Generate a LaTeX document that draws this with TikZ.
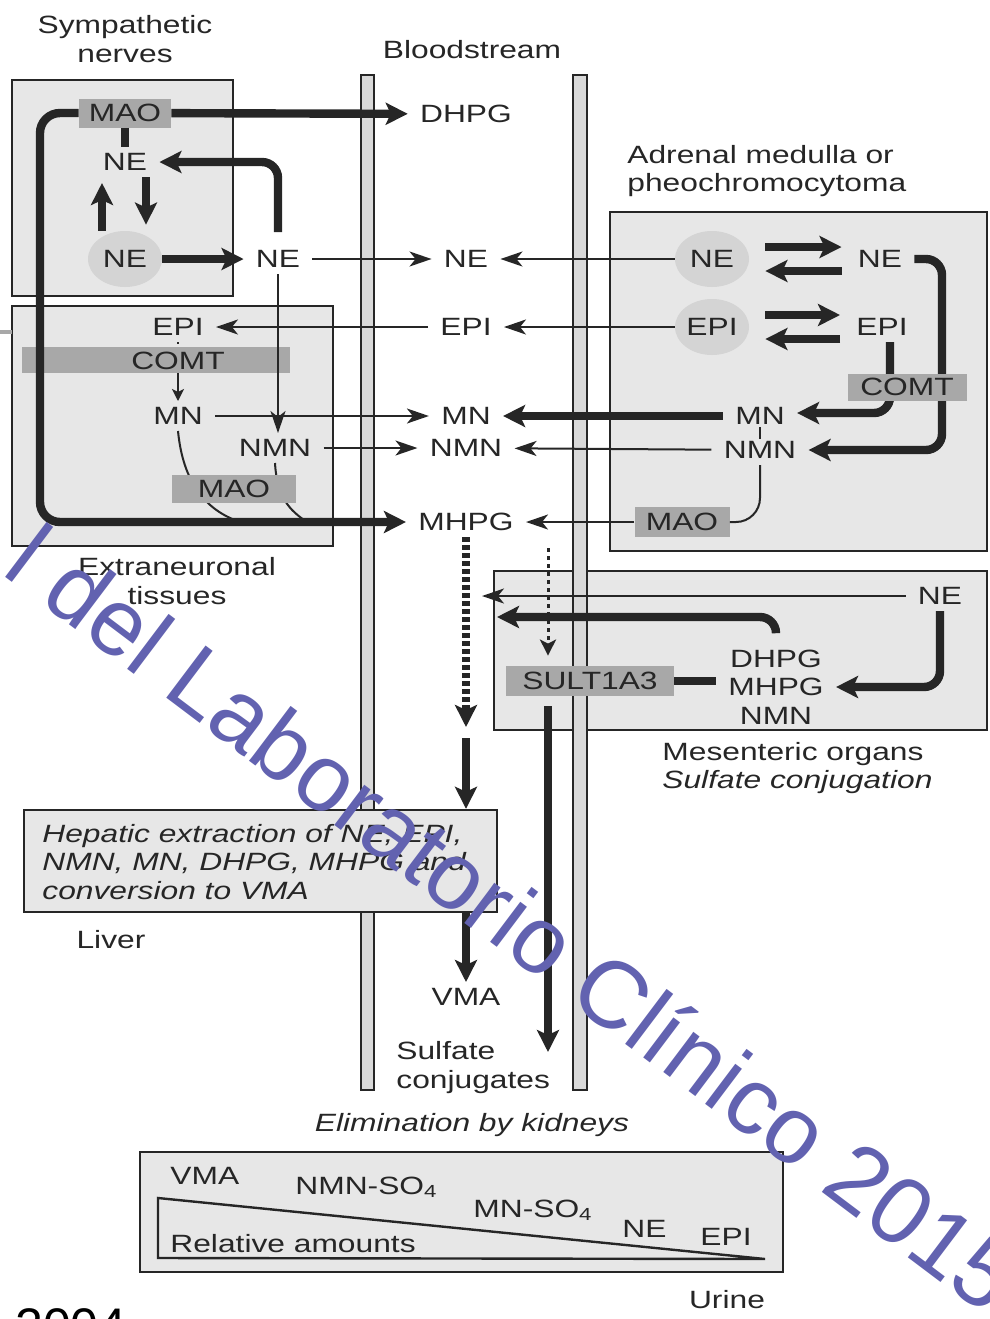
\documentclass[tikz,border=0pt]{standalone}
\usepackage{fontspec}
\setmainfont{Liberation Sans}[FakeStretch=1.27]
\newfontfamily\wmfont{Liberation Sans}
\usepackage{tikz}
\usetikzlibrary{arrows.meta, shapes.geometric, calc}

\definecolor{boxgray}{HTML}{E7E7E7}
\definecolor{enzgray}{HTML}{A8A8A8}
\definecolor{poolgray}{HTML}{D4D4D4}
\definecolor{vesgray}{HTML}{D9D9D9}
\definecolor{inkgray}{HTML}{262626}
\definecolor{wmblue}{RGB}{98,98,176}

\newcommand{\labfont}{\fontsize{12.5}{14.2}\selectfont}

\tikzset{
  organ/.style={draw=inkgray, line width=1.2pt, fill=boxgray},
  vessel/.style={draw=inkgray, line width=1.2pt, fill=vesgray},
  enz/.style={fill=enzgray, inner sep=0pt},
  pool/.style={ellipse, fill=poolgray, minimum width=37pt, minimum height=28pt, inner sep=0pt},
  fat/.style={draw=inkgray, line width=4.2pt, -{Stealth[length=11pt,width=11pt,inset=2.5pt]}},
  bar/.style={draw=inkgray, line width=4.2pt},
  conn/.style={draw=inkgray, line width=1pt, -{Stealth[length=11pt,width=7.5pt,inset=3pt]}},
  shortconn/.style={draw=inkgray, line width=1pt, -{Stealth[length=6pt,width=6pt,inset=1.5pt]}},
  thinline/.style={draw=inkgray, line width=1pt},
  dotconn/.style={draw=inkgray, line width=1.5pt, dash pattern=on 2pt off 2pt, -{Stealth[length=8pt,width=8pt,inset=2pt]}},
}

\begin{document}
\begin{tikzpicture}[x=0.5pt, y=-0.5pt, font=\labfont,
  every node/.style={text=inkgray, inner xsep=6pt, inner ysep=3pt}]
\useasboundingbox (0,0) rectangle (990,1319);

% compartments
\draw[organ] (12,80) rectangle (233,296);
\draw[organ] (12,306) rectangle (333,546);
\draw[organ] (610,212) rectangle (987,551);
\draw[organ] (494,571) rectangle (987,730);
\draw[organ] (140,1152) rectangle (783,1272);
\draw[draw=enzgray, line width=2pt] (0,332) -- (12,332);

% bloodstream
\draw[vessel] (361,75) rectangle (374,1090);
\draw[vessel] (573,75) rectangle (587,1090);

% liver
\node[organ, minimum width=236.5pt, minimum height=51pt, inner sep=0pt] (lvBox) at (260.5,861) {};
\node[anchor=west, align=left, font=\labfont\itshape] (lvText) at (30,862)
  {Hepatic extraction of NE, EPI,\\NMN, MN, DHPG, MHPG and\\conversion to VMA};

% headings
\node[align=center] (tSym) at (125,39) {Sympathetic\\nerves};
\node (tBlood) at (472,50) {Bloodstream};
\node[anchor=west, align=left] (tAdr) at (615,171) {Adrenal medulla or\\pheochromocytoma};
\node[align=center, font=\fontsize{12.5}{14.5}\selectfont] (tExtra) at (177,581) {Extraneuronal\\tissues};
\node[anchor=west, align=left] (tMes) at (650,754) {Mesenteric organs};
\node[anchor=west, font=\labfont\itshape] (tSulf) at (650,782) {Sulfate conjugation};
\node (tLiver) at (111,940) {Liver};
\node[font=\labfont\itshape] (tElim) at (472,1125) {Elimination by kidneys};
\node (tUrine) at (727,1300) {Urine};

% sympathetic nerves
\node[enz, minimum width=46pt, minimum height=14.5pt] (snMAO) at (125,113) {MAO};
\node (snNE) at (125,162) {NE};
\node[pool] (snPool) at (125,259) {NE};
\node (snNEout) at (278,259) {NE};

% extraneuronal tissues
\node (exEPI) at (178,327) {EPI};
\node[enz, minimum width=134pt, minimum height=13pt] (exCOMTbar) at (156,360) {};
\node (exCOMT) at (178,361) {COMT};
\node (exMN) at (178,416) {MN};
\node (exNMN) at (275,448) {NMN};

% bloodstream pools
\node (bDHPG) at (466,114) {DHPG};
\node (bNE) at (466,259) {NE};
\node (bEPI) at (466,327) {EPI};
\node (bMN) at (466,416) {MN};
\node (bNMN) at (466,448) {NMN};
\node (bMHPG) at (466,522) {MHPG};
\node (bVMA) at (466,997) {VMA};
\node[anchor=west, align=left] (bSulf) at (384,1067.5) {Sulfate\\conjugates};

% adrenal medulla
\node[pool] (adNEpool) at (712,259) {NE};
\node[pool] (adEPIpool) at (712,327) {EPI};
\node (adNE) at (880,259) {NE};
\node (adEPI) at (882,327) {EPI};
\node (adMN) at (760,416) {MN};
\node (adNMN) at (760,450) {NMN};
\node[enz, minimum width=47.5pt, minimum height=15pt] (adMAO) at (682,522) {MAO};

% mesenteric organs
\node (msNE) at (940,596) {NE};
\node (msDHPG) at (776,659) {DHPG};
\node (msMHPG) at (776,687) {MHPG};
\node (msNMN) at (776,716) {NMN};
\node[enz, minimum width=84pt, minimum height=15pt] (msSULT) at (590,681) {SULT1A3};

\coordinate (loopBL) at (40,522);
\coordinate (mnEnd) at (240,522);
\coordinate (nmnEnd) at (307,522);
\coordinate (adLoop) at (942,259);
\coordinate (msTip) at (482,596);
\coordinate (msTip2) at (497,617);
\coordinate (dotTop) at (548,548);
\coordinate (dashTip) at (466,727);
\coordinate (lvStart) at (466,738);
\coordinate (sulfTip) at (548,1052);

% sympathetic connectors
\draw[bar] (snMAO.south) -- (snNE.north);
\draw[fat, shorten >=3pt] ([xshift=-11.5pt]snPool.north) -- ([xshift=-11.5pt]snNE.south);
\draw[fat, shorten >=3pt] ([xshift=10.5pt]snNE.south) -- ([xshift=10.5pt]snPool.north);
\draw[fat] (snPool) -- (snNEout);
\draw[fat, rounded corners=8pt, shorten <=6pt] (snNEout.north) |- (snNE.east);
\draw[fat] (snMAO) -- (bDHPG);
\draw[fat, rounded corners=10pt] (snMAO.west) -| (loopBL) -- (bMHPG);
\draw[conn] (snNEout) -- (bNE);
\draw[conn] (snNEout.south) -- (snNEout.south |- exNMN.north);

% extraneuronal connectors
\draw[conn] (bEPI) -- (exEPI);
\draw[thinline, dotted] (exEPI.south) -- (exEPI.south |- exCOMTbar.north);
\draw[shortconn] (exCOMTbar.south -| exMN) -- (exMN.north);
\draw[conn] (exMN) -- (bMN);
\draw[conn] (exNMN) -- (bNMN);
\draw[thinline] (exMN.south) .. controls (183,482) and (205,510) .. (mnEnd);
\draw[thinline] (exNMN.south) .. controls (277,497) and (289,510) .. (nmnEnd);
\node[enz, minimum width=62pt, minimum height=14pt] (exMAO) at (234,489) {MAO};

% adrenal connectors
\draw[conn] (adNEpool) -- (bNE);
\draw[conn] (adEPIpool) -- (bEPI);
\draw[fat, shorten <=8pt, shorten >=2pt] ([yshift=6pt]adNEpool.east) -- ([yshift=6pt]adNE.west);
\draw[fat, shorten <=2pt, shorten >=8pt] ([yshift=-6pt]adNE.west) -- ([yshift=-6pt]adNEpool.east);
\draw[fat, shorten <=8pt, shorten >=2pt] ([yshift=6pt]adEPIpool.east) -- ([yshift=6pt]adEPI.west);
\draw[fat, shorten <=2pt, shorten >=8pt] ([yshift=-6pt]adEPI.west) -- ([yshift=-6pt]adEPIpool.east);
\draw[fat, rounded corners=8pt] (adNE.east) -- (adLoop) |- (adNMN.east);
\draw[fat, rounded corners=8pt] ([xshift=4pt]adEPI.south) |- ([yshift=1.5pt]adMN.east);
\node[enz, minimum width=59.5pt, minimum height=13.5pt] (adCOMT) at (907,387) {COMT};
\draw[fat] (adMN) -- (bMN);
\draw[conn] (adNMN) -- (bNMN);
\draw[thinline, shorten <=-2pt, shorten >=-2pt] (adMN.south) -- (adNMN.north);
\draw[thinline, rounded corners=12pt] (adNMN.south) |- (adMAO.east);
\draw[conn] (adMAO) -- (bMHPG);

% mesenteric connectors
\draw[conn] (msNE) -- (msTip);
\draw[fat, rounded corners=8pt] ([yshift=6pt]msDHPG.north) |- (msTip2);
\draw[fat, rounded corners=8pt] (msNE.south) |- (msMHPG.east);
\draw[bar] (msSULT.east) -- (msSULT.east -| msMHPG.west);
\draw[dotconn, shorten >=5pt] (dotTop) -- (dotTop |- msSULT.north);
\draw[fat, shorten <=5pt] (msSULT.south -| dotTop) -- (sulfTip);

% towards liver and kidneys
\draw[fat, dash pattern=on 2.5pt off 1.5pt] (bMHPG.south) -- (dashTip);
\draw[fat] (lvStart) -- (lvStart |- lvBox.north);
\draw[fat] (lvBox.south -| bVMA) -- (bVMA.north);

% urine
\draw[line width=1.2pt, draw=inkgray] (158,1198) -- (158,1258) -- (765,1259) -- cycle;
\node[anchor=base west] (uVMA) at (158,1184) {VMA};
\node[anchor=base west] (uNMN) at (283,1194) {NMN-SO\textsubscript{4}};
\node[anchor=base west] (uMN) at (461,1217) {MN-SO\textsubscript{4}};
\node[anchor=base west] (uNE) at (610,1237) {NE};
\node[anchor=base west] (uEPI) at (688,1245) {EPI};
\node[anchor=base west] (uRel) at (158,1252) {Relative amounts};

% slide leftovers
\node[anchor=base west, inner sep=0pt, text=black, font=\fontsize{25}{30}\selectfont\wmfont] (yr) at (15,1343) {2004};
\node[anchor=base west, inner sep=0pt, text=wmblue, rotate=-37, font=\fontsize{47.5}{50}\selectfont\wmfont] (wm) at (0,573) {l del Laboratorio Clínico 2015};
\end{tikzpicture}
\end{document}
